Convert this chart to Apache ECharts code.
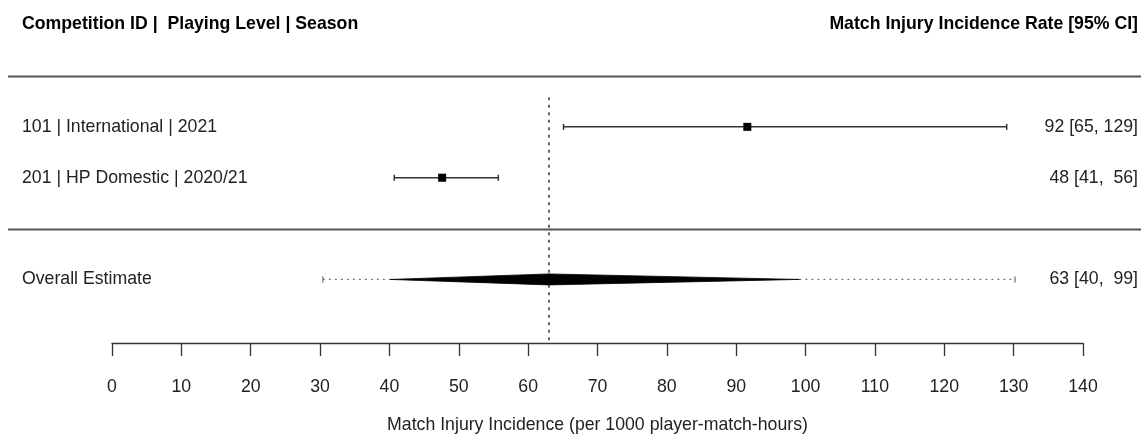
<!DOCTYPE html>
<html>
<head>
<meta charset="utf-8">
<script src="https://cdn.jsdelivr.net/npm/echarts@6.0.0/dist/echarts.min.js"></script>
<style>
  html, body { margin: 0; padding: 0; background: #fff; }
  #chartContainer { width: 1141px; height: 434px; }
</style>
</head>
<body>
<div id="chartContainer"></div>
<script>
// 数据
const studyLabels = ["101 | International | 2021", "201 | HP Domestic | 2020/21"];
const studyRows = [1, 2];
const studyEst = [91.6, 47.6];
const studyLow = [65.1, 40.7];
const studyHigh = [129.0, 55.7];
const studyText = ["92 [65, 129]", "48 [41,  56]"];

const overallLabel = "Overall Estimate";
const overallRow = 4;
const overallEst = 63.0;
const overallLow = 40.1;
const overallHigh = 99.1;
const predLow = 30.4;
const predHigh = 130.2;
const overallText = "63 [40,  99]";

const separatorRows = [0, 3];
const xTicks = [0, 10, 20, 30, 40, 50, 60, 70, 80, 90, 100, 110, 120, 130, 140];

const FONT = "'Liberation Sans', Arial, sans-serif";
const FS = 17.7;

// 行标签
const leftLabels = {};
const rightLabels = {};
studyRows.forEach((r, i) => {
  leftLabels[r] = studyLabels[i];
  rightLabels[r] = studyText[i];
});
leftLabels[overallRow] = overallLabel;
rightLabels[overallRow] = overallText;

const chartDom = document.getElementById("chartContainer");
const myChart = echarts.init(chartDom);

const yBase = {
  type: "value",
  min: 0,
  max: 5.25,
  interval: 1,
  inverse: true,
  axisLine: { show: false },
  axisTick: { show: false },
  splitLine: { show: false },
};

const option = {
  animation: false,
  title: [
    {
      text: "Competition ID |  Playing Level | Season",
      left: 22,
      top: 15,
      padding: 0,
      textStyle: { fontFamily: FONT, fontSize: FS, fontWeight: "bold", color: "#000" },
    },
    {
      text: "Match Injury Incidence Rate [95% CI]",
      right: 3,
      top: 15,
      padding: 0,
      textStyle: { fontFamily: FONT, fontSize: FS, fontWeight: "bold", color: "#000" },
    },
  ],
  grid: { left: 112, right: 58, top: 76, bottom: 91, outerBoundsMode: "none", containLabel: false },
  xAxis: {
    type: "value",
    min: xTicks[0],
    max: xTicks[xTicks.length - 1],
    interval: 10,
    name: "Match Injury Incidence (per 1000 player-match-hours)",
    nameLocation: "middle",
    nameGap: 73,
    nameTextStyle: { fontFamily: FONT, fontSize: FS, color: "#222" },
    axisLine: { onZero: false, lineStyle: { color: "#333", width: 1.3 } },
    axisTick: { inside: false, length: 13, lineStyle: { color: "#333", width: 1.3 } },
    axisLabel: { margin: 35, fontFamily: FONT, fontSize: FS, color: "#222" },
    splitLine: { show: false },
  },
  yAxis: [
    Object.assign({}, yBase, {
      position: "left",
      axisLabel: {
        align: "left",
        margin: 90,
        fontFamily: FONT,
        fontSize: FS,
        color: "#222",
        formatter: (v) => leftLabels[v] || "",
      },
    }),
    Object.assign({}, yBase, {
      position: "right",
      axisLabel: {
        align: "right",
        margin: 55,
        fontFamily: FONT,
        fontSize: FS,
        color: "#222",
        formatter: (v) => rightLabels[v] || "",
      },
    }),
  ],
  series: [
    // 参考线(总体估计)
    {
      type: "custom",
      data: [[overallEst, 0.42, 5.22]],
      renderItem: function (params, api) {
        const p1 = api.coord([api.value(0), api.value(1)]);
        const p2 = api.coord([api.value(0), api.value(2)]);
        return {
          type: "line",
          shape: { x1: p1[0], y1: p1[1], x2: p2[0], y2: p2[1] },
          style: { stroke: "#000", lineWidth: 1.2, lineDash: [3, 4.5] },
        };
      },
    },
    // 各研究
    {
      type: "custom",
      data: studyRows.map((r, i) => [studyEst[i], studyLow[i], studyHigh[i], r]),
      renderItem: function (params, api) {
        const y = api.value(3);
        const pL = api.coord([api.value(1), y]);
        const pH = api.coord([api.value(2), y]);
        const pE = api.coord([api.value(0), y]);
        const s = 8;
        const cap = 3;
        const st = { stroke: "#333", lineWidth: 1.5 };
        return {
          type: "group",
          children: [
            { type: "line", shape: { x1: pL[0], y1: pL[1], x2: pH[0], y2: pH[1] }, style: st },
            { type: "line", shape: { x1: pL[0], y1: pL[1] - cap, x2: pL[0], y2: pL[1] + cap }, style: st },
            { type: "line", shape: { x1: pH[0], y1: pH[1] - cap, x2: pH[0], y2: pH[1] + cap }, style: st },
            { type: "rect", shape: { x: pE[0] - s / 2, y: pE[1] - s / 2, width: s, height: s }, style: { fill: "#000" } },
          ],
        };
      },
    },
    // 总体估计(菱形 + 预测区间)
    {
      type: "custom",
      data: [[overallEst, overallLow, overallHigh, predLow, predHigh, overallRow]],
      renderItem: function (params, api) {
        const y = api.value(5);
        const pE = api.coord([api.value(0), y]);
        const pL = api.coord([api.value(1), y]);
        const pH = api.coord([api.value(2), y]);
        const qL = api.coord([api.value(3), y]);
        const qH = api.coord([api.value(4), y]);
        const h = 5.5;
        const cap = 3;
        const dot = { stroke: "#777", lineWidth: 1.3, lineDash: [2, 4] };
        const capSt = { stroke: "#777", lineWidth: 1.3 };
        return {
          type: "group",
          children: [
            { type: "line", shape: { x1: qL[0], y1: qL[1], x2: pL[0], y2: pL[1] }, style: dot },
            { type: "line", shape: { x1: pH[0], y1: pH[1], x2: qH[0], y2: qH[1] }, style: dot },
            { type: "line", shape: { x1: qL[0], y1: qL[1] - cap, x2: qL[0], y2: qL[1] + cap }, style: capSt },
            { type: "line", shape: { x1: qH[0], y1: qH[1] - cap, x2: qH[0], y2: qH[1] + cap }, style: capSt },
            {
              type: "polygon",
              shape: { points: [[pL[0], pL[1]], [pE[0], pE[1] - h], [pH[0], pH[1]], [pE[0], pE[1] + h]] },
              style: { fill: "#000", stroke: "#000", lineWidth: 0.8 },
            },
          ],
        };
      },
    },
  ],
};

myChart.setOption(option);

// 分隔线
const sepGraphics = separatorRows.map((r) => {
  const y = Math.round(myChart.convertToPixel({ yAxisIndex: 0 }, r)) + 0.5;
  return {
    type: "line",
    shape: { x1: 8, y1: y, x2: 1141, y2: y },
    style: { stroke: "#555", lineWidth: 1.8 },
  };
});
myChart.setOption({ graphic: sepGraphics });
</script>
</body>
</html>
